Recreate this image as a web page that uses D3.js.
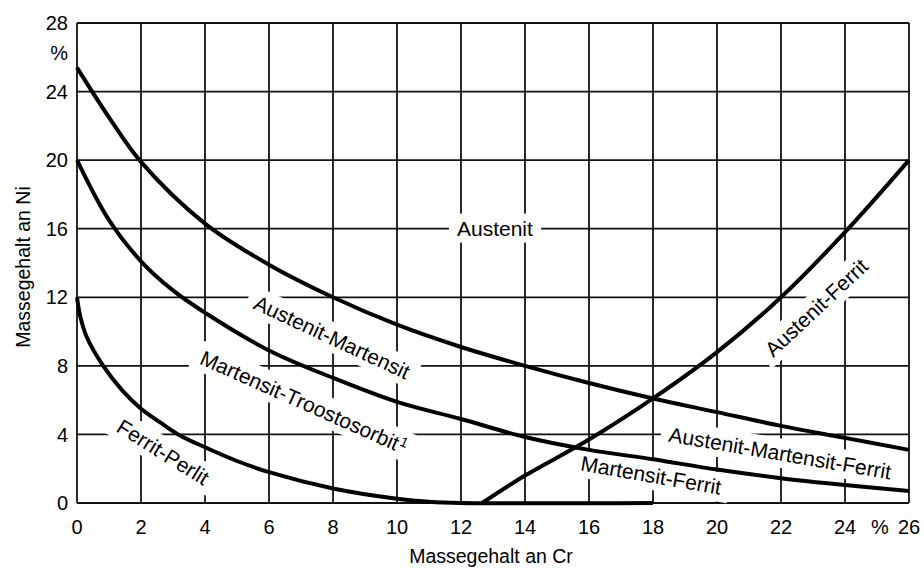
<!DOCTYPE html>
<html>
<head>
<meta charset="utf-8">
<script src="https://cdn.jsdelivr.net/npm/d3@7"></script>
<style>
  body { margin: 0; background: #fff; }
  svg { display: block; font-family: "Liberation Sans", Arial, sans-serif; }
  .grid line { stroke: #111; stroke-width: 1.8; }
  .curve { fill: none; stroke: #000; stroke-width: 4; stroke-linejoin: round; }
  .lbl { font-size: 20px; fill: #000; }
  .region { font-size: 21px; fill: #000; }
</style>
</head>
<body>
<svg id="chart"></svg>
<script>
// tick values of the diagram (Massegehalt in %)
var xTicks = [0, 2, 4, 6, 8, 10, 12, 14, 16, 18, 20, 22, 24, 26];
var yTicks = [0, 4, 8, 12, 16, 20, 24, 28];

// boundary Austenit / Austenit-Martensit
var austenitX = [0, 1, 2, 4, 6, 8, 10, 12, 14, 16, 18, 20, 22, 24, 26];
var austenitY = [25.4, 22.5, 19.9, 16.3, 13.9, 12.0, 10.4, 9.1, 8.0, 7.0, 6.1, 5.3, 4.5, 3.8, 3.1];

// boundary Austenit-Martensit / Martensit-Troostosorbit
var martensitX = [0, 1, 2, 3, 4, 6, 8, 10, 12, 14, 16, 18, 20, 22, 24, 26];
var martensitY = [20, 16.5, 14.1, 12.4, 11.1, 8.9, 7.3, 5.9, 4.9, 3.85, 3.1, 2.55, 1.95, 1.45, 1.05, 0.7];

// boundary Martensit-Troostosorbit / Ferrit-Perlit
var perlitX = [0, 0.1, 0.3, 0.82, 1.4, 2, 2.6, 3.16, 4, 5, 6, 8, 10, 11, 12, 18];
var perlitY = [12, 10.9, 9.7, 8, 6.6, 5.5, 4.7, 4.0, 3.25, 2.45, 1.8, 0.85, 0.25, 0.07, 0, 0];

// boundary Austenit-Ferrit
var ferritX = [12.66, 14, 16, 18, 20, 22, 24, 26];
var ferritY = [0, 1.6, 3.7, 6.1, 8.8, 12, 15.8, 20];

// region names
var regionNames = ["Austenit", "Austenit-Martensit", "Martensit-Troostosorbit", "Ferrit-Perlit",
                   "Austenit-Ferrit", "Austenit-Martensit-Ferrit", "Martensit-Ferrit"];
var regionNotes = ["", "", "1", "", "", "", ""];
var regionX = [13.06, 7.97, 7.09, 2.69, 23.1, 21.97, 17.94];
var regionY = [16.04, 9.68, 5.89, 2.98, 11.4, 2.92, 1.63];
var regionAngle = [0, 25, 24, 32, -43, 9.7, 10];

var width = 924,
    height = 568;

var svg = d3.select("#chart")
    .attr("width", width)
    .attr("height", height);

var x = d3.scaleLinear().domain([0, 26]).range([77, 909]);
var y = d3.scaleLinear().domain([0, 28]).range([503, 23]);

// grid
var grid = svg.append("g").attr("class", "grid");
grid.selectAll(".v")
    .data(xTicks)
  .enter().append("line")
    .attr("x1", function(d) { return x(d); })
    .attr("x2", function(d) { return x(d); })
    .attr("y1", y(0))
    .attr("y2", y(28));
grid.selectAll(".h")
    .data(yTicks)
  .enter().append("line")
    .attr("y1", function(d) { return y(d); })
    .attr("y2", function(d) { return y(d); })
    .attr("x1", x(0))
    .attr("x2", x(26));

// tick labels
svg.append("g").selectAll("text")
    .data(xTicks)
  .enter().append("text")
    .attr("class", "lbl")
    .attr("x", function(d) { return x(d); })
    .attr("y", 534)
    .attr("text-anchor", "middle")
    .text(function(d) { return d; });

svg.append("text")
    .attr("class", "lbl")
    .attr("x", 880)
    .attr("y", 534)
    .attr("text-anchor", "middle")
    .text("%");

svg.append("g").selectAll("text")
    .data(yTicks)
  .enter().append("text")
    .attr("class", "lbl")
    .attr("x", 68)
    .attr("y", function(d) { return y(d); })
    .attr("dy", "0.36em")
    .attr("text-anchor", "end")
    .text(function(d) { return d; });

svg.append("text")
    .attr("class", "lbl")
    .attr("x", 68)
    .attr("y", 60)
    .attr("text-anchor", "end")
    .text("%");

// axis titles
svg.append("text")
    .attr("class", "lbl")
    .attr("x", 491)
    .attr("y", 563)
    .attr("text-anchor", "middle")
    .style("font-size", "19.5px")
    .text("Massegehalt an Cr");

svg.append("text")
    .attr("class", "lbl")
    .attr("transform", "translate(30,267) rotate(-90)")
    .attr("text-anchor", "middle")
    .style("font-size", "19.5px")
    .text("Massegehalt an Ni");

// region labels with white background boxes over the grid
var labels = svg.append("g").selectAll("g")
    .data(regionNames)
  .enter().append("g")
    .attr("transform", function(d, i) {
      return "translate(" + x(regionX[i]) + "," + y(regionY[i]) + ") rotate(" + regionAngle[i] + ")";
    });

var texts = labels.append("text")
    .attr("class", "region")
    .attr("text-anchor", "middle")
    .attr("dy", "0.36em");

texts.append("tspan")
    .text(function(d) { return d; });

// footnote mark
texts.filter(function(d, i) { return regionNotes[i] !== ""; })
  .append("tspan")
    .attr("dy", -7)
    .attr("dx", 1)
    .style("font-size", "14px")
    .text(function(d) { return regionNotes[regionNames.indexOf(d)]; });

labels.each(function() {
  var g = d3.select(this);
  var b = g.select("text").node().getBBox();
  g.insert("rect", "text")
      .attr("x", b.x - 8)
      .attr("y", b.y - 3)
      .attr("width", b.width + 16)
      .attr("height", b.height + 6)
      .attr("fill", "#fff");
});

// phase boundaries
var line = d3.line()
    .x(function(d) { return x(d[0]); })
    .y(function(d) { return y(d[1]); })
    .curve(d3.curveCatmullRom.alpha(0.5));

function pairs(xs, ys) {
  return xs.map(function(v, i) { return [v, ys[i]]; });
}

[pairs(austenitX, austenitY), pairs(martensitX, martensitY),
 pairs(perlitX, perlitY), pairs(ferritX, ferritY)].forEach(function(d) {
  svg.append("path")
      .datum(d)
      .attr("class", "curve")
      .attr("d", line);
});
</script>
</body>
</html>
